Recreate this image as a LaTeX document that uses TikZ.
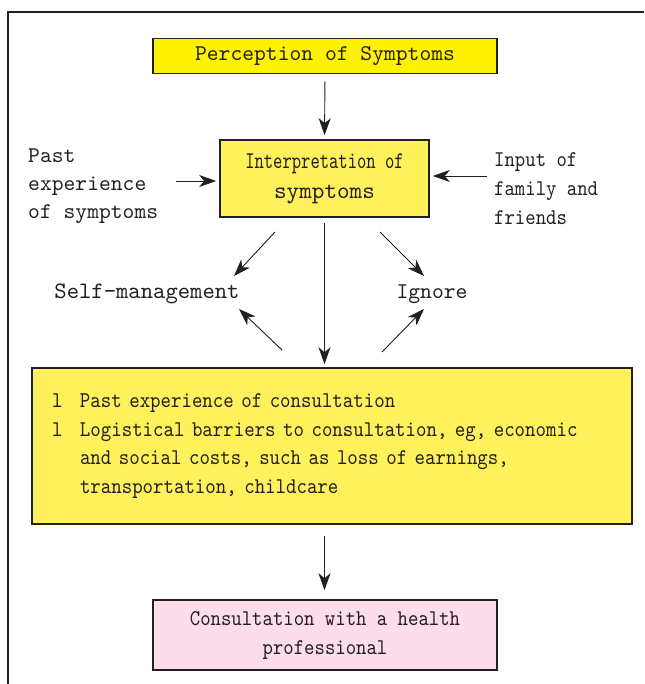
\documentclass[tikz,border=0pt]{standalone}
\usepackage{fontspec}
\newfontfamily\monon{lmmono10-regular.otf}
\newfontfamily\monoc{lmmono10-regular.otf}[FakeStretch=0.885]
\newfontfamily\monoi{lmmono10-regular.otf}[FakeStretch=0.88]
\newfontfamily\monop{lmmono10-regular.otf}[FakeStretch=0.88]
\newfontfamily\monocc{lmmono10-regular.otf}[FakeStretch=0.74]
\usetikzlibrary{arrows.meta,calc}
\definecolor{ink}{RGB}{35,31,32}
\definecolor{brightyellow}{RGB}{255,242,0}
\definecolor{softyellow}{RGB}{255,241,92}
\definecolor{softpink}{RGB}{251,221,235}
\begin{document}
\begin{tikzpicture}[x=1pt,y=-1pt,
  every node/.style={text=ink, font=\monon\fontsize{22.5}{28}\selectfont},
  box/.style={draw=ink, line width=1.6pt, rectangle, inner sep=0pt, align=center},
  arr/.style={draw=ink, line width=0.9pt, -{Stealth[length=17pt,width=12pt,inset=5pt]}},
  lbl/.style={inner sep=0pt, align=left}]
\useasboundingbox (0,0) rectangle (644,684);
% frame
\draw[ink, line width=1.8pt] (644,12) -- (8,12) -- (8,684);
% boxes
\node[box, fill=brightyellow, minimum width=344pt, minimum height=35pt] (perc) at (325,56) {Perception of Symptoms};
\node[box, fill=softyellow, minimum width=209pt, minimum height=77pt,
      font=\monon\fontsize{24}{30}\selectfont] (interp) at (324.5,178.5)
  {{\monocc Interpretation of}\\symptoms};
\node[box, fill=softyellow, minimum width=600pt, minimum height=156pt, text width=560pt, align=left,
      font=\monoc\fontsize{22.5}{28.7}\selectfont] (big) at (332,446)
  {\makebox[28pt][l]{l}Past experience of consultation\\
   \makebox[28pt][l]{l}Logistical barriers to consultation, eg, economic\\
   \hspace*{28pt}and social costs, such as loss of earnings,\\
   \hspace*{28pt}transportation, childcare};
\node[box, fill=softpink, minimum width=344pt, minimum height=70pt,
      font=\monop\fontsize{22.5}{29}\selectfont] (pink) at (325,635)
  {Consultation with a health\\professional};
% side labels
\node[lbl, anchor=west] (past) at (28,186) {Past\\experience\\of symptoms};
\node[lbl, anchor=west, font=\monoi\fontsize{22.5}{29}\selectfont] (input) at (494,189) {Input of\\family and\\friends};
\node[inner sep=0pt, font=\monon\fontsize{23.5}{28}\selectfont] (self) at (147,294) {Self-management};
\node[inner sep=0pt] (ign) at (432,294) {Ignore};
% connectors
\draw[arr, shorten <=7pt, shorten >=4pt] (perc.south) -- (interp.north);
\coordinate (p0) at (176,181);
\draw[arr, shorten >=3pt] (p0) -- (p0 -| interp.west);
\coordinate (q0) at (487,176);
\draw[arr, shorten >=3pt] (q0) -- (q0 -| interp.east);
\draw[arr, shorten <=5pt, shorten >=3pt] (interp.south) -- (interp.south |- big.north);
\coordinate (sa) at (275,232); \coordinate (sb) at (234,276);
\draw[arr] (sa) -- (sb);
\coordinate (ia) at (380,232); \coordinate (ib) at (424,276);
\draw[arr] (ia) -- (ib);
\coordinate (sc) at (282,350); \coordinate (sd) at (239,309);
\draw[arr] (sc) -- (sd);
\coordinate (ic) at (382,352); \coordinate (id) at (424,309);
\draw[arr] (ic) -- (id);
\draw[arr, shorten <=11pt, shorten >=9pt] (interp.south |- big.south) -- (interp.south |- pink.north);
\end{tikzpicture}
\end{document}
